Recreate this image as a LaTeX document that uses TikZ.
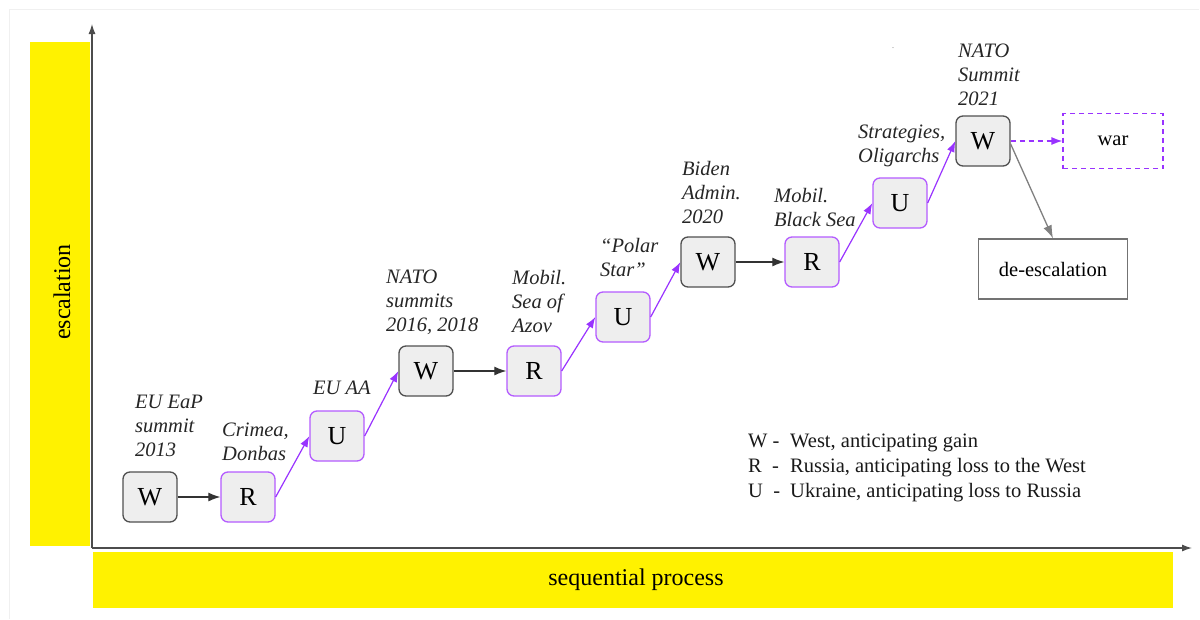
\documentclass[tikz,border=0pt]{standalone}
\usepackage{fontspec}
\setmainfont{Liberation Serif}
\usetikzlibrary{arrows.meta}
\definecolor{purp}{HTML}{9933FF}
\definecolor{purpb}{HTML}{B45CFF}
\definecolor{boxfill}{HTML}{EEEEEE}
\definecolor{wborder}{HTML}{505050}
\tikzset{
  every node/.style={font=\rmfamily\fontsize{20.5}{24}\selectfont},
  sbox/.style={rounded corners=7pt, fill=boxfill, minimum width=54pt, minimum height=50pt, inner sep=0pt, font=\rmfamily\fontsize{26}{28}\selectfont, line width=1.3pt},
  wbox/.style={sbox, draw=wborder},
  pbox/.style={sbox, draw=purpb},
  lab/.style={anchor=north west, align=left, inner sep=0pt, font=\rmfamily\fontsize{20.5}{24}\selectfont\itshape, text=black!85},
  blk/.style={-{Latex[length=12pt,width=9pt]}, line width=1.2pt, draw=black!80},
  prp/.style={-{Latex[length=11pt,width=8pt]}, line width=1.2pt, draw=purp},
  legtxt/.style={anchor=base west, inner sep=0pt, font=\rmfamily\fontsize{20.5}{22}\selectfont, text=black!90}
}
\begin{document}
\begin{tikzpicture}[x=1pt,y=-1pt]
\useasboundingbox (0,0) rectangle (1200,619);
\fill[white] (0,0) rectangle (1200,619);
\draw[black!6, line width=1pt] (9,619) -- (9,9) -- (1199,9);
% yellow bands
\fill[yellow] (30,42) rectangle (90,546);
\fill[yellow] (93,552) rectangle (1173,608);
\node[rotate=90, font=\rmfamily\fontsize{24}{26}\selectfont] (esc) at (62,292) {escalation};
\node[font=\rmfamily\fontsize{24}{26}\selectfont] (seq) at (636,580) {sequential process};
% axes
\coordinate (o) at (92,548);
\coordinate (ytop) at (92,24);
\coordinate (xend) at (1192,548);
\draw[-{Latex[length=10pt,width=7pt]}, line width=1.3pt, black!70] (o) -- (ytop);
\draw[-{Latex[length=10pt,width=7pt]}, line width=1.3pt, black!70] (o) -- (xend);
% boxes
\node[wbox] (W1) at (150,497) {W};
\node[pbox] (R1) at (248,497) {R};
\node[pbox] (U1) at (337,436) {U};
\node[wbox] (W2) at (426,371) {W};
\node[pbox] (R2) at (534,371) {R};
\node[pbox] (U2) at (623,317) {U};
\node[wbox] (W3) at (708,262) {W};
\node[pbox] (R3) at (812,262) {R};
\node[pbox] (U3) at (900,203) {U};
\node[wbox] (W4) at (983,141) {W};
\node[draw=purp, dashed, dash pattern=on 5pt off 4pt, line width=1.2pt, minimum width=100pt, minimum height=55pt, inner sep=0pt] (war) at (1113,141) {war};
\node[draw=black!55, line width=1.3pt, minimum width=149pt, minimum height=60pt, inner sep=0pt] (deesc) at (1053,269) {de-escalation};
% labels
\node[lab] (l1) at (135,395) {EU EaP\\summit\\2013};
\node[lab] (l2) at (222,423) {Crimea,\\Donbas};
\node[lab] (l3) at (313,381) {EU AA};
\node[lab] (l4) at (386,270) {NATO\\summits\\2016, 2018};
\node[lab] (l5) at (512,270) {Mobil.\\Sea of\\Azov};
\node[lab] (l6) at (600,238) {``Polar\\Star''};
\node[lab] (l7) at (682,161) {Biden\\Admin.\\2020};
\node[lab] (l8) at (774,188) {Mobil.\\Black Sea};
\node[lab] (l9) at (858,125) {Strategies,\\Oligarchs};
\node[lab] (l10) at (958,44) {NATO\\Summit\\2021};
\node[inner sep=0pt, font=\fontsize{8}{8}\selectfont, text=black!60] (dot) at (893,48) {.};
% connectors
\draw[blk] (W1) -- (R1);
\draw[prp] (R1.east) -- (U1.west);
\draw[prp] (U1.east) -- (W2.west);
\draw[blk] (W2) -- (R2);
\draw[prp] (R2.east) -- (U2.west);
\draw[prp] (U2.east) -- (W3.west);
\draw[blk] (W3) -- (R3);
\draw[prp] (R3.east) -- (U3.west);
\draw[prp] (U3.east) -- (W4.west);
\draw[prp, dashed, dash pattern=on 5pt off 4pt] (W4.east) -- (war.west);
\draw[-{Latex[length=13pt,width=9pt]}, line width=1.3pt, draw=black!50] (W4.east) ++(0,3) coordinate (ws) (ws) -- (deesc.north);
% legend
\node[legtxt] (k1) at (748,447) {W -};
\node[legtxt] (k2) at (748,472) {R\enspace-};
\node[legtxt] (k3) at (748,497) {U\enspace-};
\node[legtxt] (t1) at (790,447) {West, anticipating gain};
\node[legtxt] (t2) at (790,472) {Russia, anticipating loss to the West};
\node[legtxt] (t3) at (790,497) {Ukraine, anticipating loss to Russia};
\end{tikzpicture}
\end{document}
